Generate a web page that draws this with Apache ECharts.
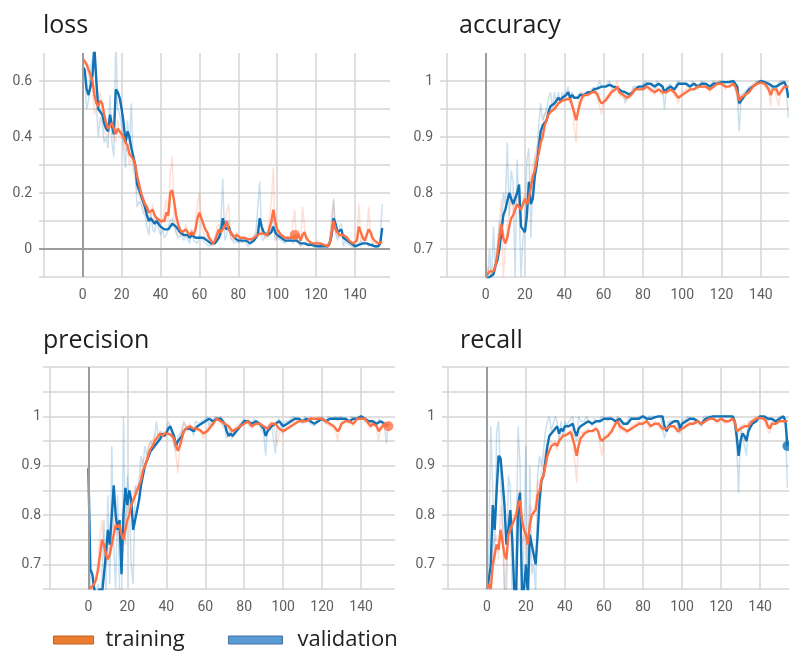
<!DOCTYPE html>
<html><head><meta charset="utf-8">
<script src="https://cdn.jsdelivr.net/npm/echarts@6/dist/echarts.min.js"></script>
<style>html,body{margin:0;padding:0;background:#fff}#c{width:789px;height:652px}</style>
</head><body><div id="c"></div>
<script>
// ---------- DATA (epochs 0..154) ----------
const lossVal = [0.65,0.64,0.57,0.55,0.58,0.62,0.72,0.60,0.50,0.49,
0.48,0.45,0.43,0.42,0.48,0.44,0.41,0.57,0.56,0.54,
0.50,0.45,0.38,0.42,0.40,0.36,0.33,0.30,0.23,0.21,
0.19,0.17,0.15,0.12,0.10,0.11,0.10,0.09,0.10,0.09,
0.08,0.08,0.07,0.065,0.07,0.08,0.09,0.09,0.08,0.07,
0.06,0.055,0.05,0.05,0.05,0.04,0.05,0.045,0.04,0.035,
0.04,0.045,0.04,0.035,0.03,0.025,0.02,0.02,0.02,0.03,
0.04,0.06,0.11,0.08,0.07,0.08,0.06,0.05,0.04,0.035,
0.03,0.035,0.03,0.03,0.03,0.025,0.02,0.025,0.03,0.04,
0.05,0.11,0.08,0.06,0.055,0.05,0.05,0.06,0.08,0.06,
0.05,0.045,0.04,0.035,0.03,0.03,0.03,0.035,0.03,0.025,
0.03,0.025,0.02,0.02,0.02,0.02,0.015,0.015,0.015,0.01,
0.01,0.015,0.01,0.01,0.01,0.01,0.01,0.02,0.05,0.11,
0.09,0.06,0.065,0.07,0.04,0.035,0.03,0.025,0.02,0.015,
0.01,0.01,0.015,0.02,0.02,0.02,0.02,0.015,0.015,0.015,
0.01,0.01,0.01,0.02,0.075];
const lossTrain = [0.68,0.67,0.66,0.64,0.62,0.60,0.55,0.52,0.51,0.53,
0.52,0.48,0.45,0.43,0.44,0.45,0.43,0.41,0.43,0.42,
0.41,0.40,0.38,0.37,0.34,0.33,0.32,0.30,0.26,0.23,
0.20,0.18,0.16,0.15,0.13,0.13,0.14,0.12,0.11,0.11,
0.10,0.10,0.10,0.13,0.12,0.20,0.21,0.17,0.12,0.09,
0.07,0.06,0.06,0.07,0.06,0.05,0.06,0.05,0.07,0.11,
0.13,0.11,0.09,0.07,0.06,0.04,0.03,0.02,0.03,0.05,
0.07,0.06,0.07,0.08,0.10,0.07,0.06,0.05,0.04,0.05,
0.05,0.04,0.04,0.04,0.04,0.035,0.035,0.035,0.04,0.045,
0.05,0.055,0.06,0.055,0.05,0.05,0.05,0.10,0.14,0.10,
0.07,0.06,0.05,0.045,0.04,0.04,0.04,0.04,0.04,0.05,
0.04,0.05,0.03,0.05,0.06,0.04,0.03,0.025,0.02,0.02,
0.02,0.025,0.02,0.02,0.015,0.01,0.01,0.02,0.06,0.10,
0.07,0.06,0.05,0.05,0.05,0.045,0.04,0.03,0.025,0.02,
0.02,0.03,0.08,0.06,0.04,0.03,0.03,0.07,0.06,0.04,
0.03,0.025,0.02,0.02,0.025];
const lossValRaw = [0.66,0.62,0.50,0.53,0.65,0.68,0.78,0.52,0.40,0.47,
0.45,0.38,0.40,0.36,0.55,0.38,0.33,0.75,0.50,0.48,
0.44,0.36,0.29,0.46,0.37,0.52,0.28,0.26,0.15,0.17,
0.16,0.13,0.12,0.08,0.05,0.13,0.07,0.06,0.11,0.07,
0.05,0.07,0.04,0.05,0.08,0.10,0.11,0.08,0.06,0.04,
0.04,0.05,0.03,0.05,0.05,0.02,0.07,0.03,0.03,0.02,
0.05,0.05,0.03,0.02,0.02,0.01,0.01,0.02,0.02,0.05,
0.06,0.09,0.25,0.03,0.05,0.10,0.04,0.03,0.02,0.03,
0.02,0.04,0.02,0.03,0.03,0.01,0.01,0.03,0.04,0.06,
0.06,0.24,0.04,0.03,0.05,0.04,0.05,0.08,0.11,0.03,
0.04,0.04,0.03,0.03,0.02,0.03,0.03,0.04,0.02,0.02,
0.04,0.02,0.01,0.02,0.02,0.02,0.01,0.01,0.02,0.00,
0.01,0.02,0.00,0.01,0.01,0.01,0.01,0.03,0.09,0.18,
0.06,0.03,0.08,0.09,0.01,0.03,0.02,0.02,0.01,0.01,
0.00,0.01,0.02,0.03,0.02,0.02,0.02,0.01,0.01,0.02,
0.01,0.00,0.01,0.04,0.16];
const lossTrainRaw = [0.69,0.66,0.65,0.62,0.60,0.58,0.48,0.50,0.50,0.56,
0.50,0.42,0.41,0.40,0.46,0.47,0.40,0.38,0.46,0.40,
0.40,0.39,0.35,0.36,0.30,0.32,0.31,0.28,0.20,0.19,
0.16,0.15,0.13,0.14,0.10,0.13,0.16,0.09,0.10,0.11,
0.09,0.10,0.10,0.18,0.10,0.27,0.33,0.11,0.06,0.05,
0.05,0.05,0.06,0.09,0.05,0.04,0.07,0.04,0.10,0.16,
0.20,0.08,0.06,0.04,0.05,0.02,0.02,0.01,0.04,0.08,
0.09,0.04,0.08,0.10,0.13,0.16,0.04,0.04,0.03,0.06,
0.05,0.03,0.04,0.04,0.04,0.03,0.03,0.04,0.05,0.05,
0.06,0.06,0.07,0.05,0.04,0.05,0.05,0.17,0.29,0.04,
0.04,0.05,0.04,0.04,0.03,0.04,0.04,0.04,0.04,0.14,
0.02,0.07,0.01,0.15,0.08,0.01,0.02,0.02,0.01,0.02,
0.02,0.03,0.01,0.02,0.01,0.00,0.01,0.03,0.12,0.17,
0.05,0.05,0.04,0.05,0.05,0.04,0.04,0.02,0.02,0.01,
0.02,0.05,0.16,0.03,0.02,0.02,0.03,0.15,0.05,0.02,
0.02,0.02,0.01,0.02,0.03];

const accVal = [0.645,0.648,0.65,0.652,0.655,0.67,0.68,0.70,0.73,0.76,
0.77,0.77,0.80,0.79,0.78,0.78,0.80,0.815,0.74,0.735,
0.73,0.76,0.82,0.78,0.79,0.83,0.85,0.88,0.91,0.92,
0.925,0.93,0.945,0.955,0.955,0.96,0.96,0.97,0.965,0.97,
0.97,0.975,0.98,0.97,0.975,0.97,0.97,0.97,0.975,0.975,
0.975,0.978,0.98,0.98,0.98,0.985,0.985,0.987,0.99,0.99,
0.99,0.99,0.99,0.993,0.995,0.99,0.99,0.988,0.985,0.982,
0.98,0.98,0.98,0.976,0.975,0.98,0.985,0.988,0.99,0.99,
0.99,0.993,0.995,0.995,0.995,0.993,0.99,0.993,0.995,0.993,
0.99,0.98,0.985,0.988,0.99,0.988,0.985,0.99,0.995,0.995,
0.995,0.995,0.995,0.993,0.99,0.993,0.995,0.993,0.99,0.993,
0.995,0.995,0.995,0.993,0.99,0.993,0.995,0.995,0.995,0.997,
0.998,0.998,0.998,0.998,0.998,0.999,1.0,0.998,0.99,0.96,
0.965,0.97,0.975,0.98,0.985,0.988,0.99,0.993,0.995,0.998,
1.0,0.999,0.998,0.997,0.995,0.993,0.99,0.99,0.99,0.992,
0.995,0.997,0.998,0.99,0.97];
const accTrain = [0.65,0.655,0.66,0.658,0.66,0.67,0.69,0.72,0.745,0.72,
0.71,0.72,0.74,0.755,0.76,0.77,0.78,0.78,0.77,0.78,
0.79,0.78,0.79,0.81,0.83,0.84,0.86,0.87,0.89,0.90,
0.92,0.93,0.94,0.945,0.945,0.95,0.955,0.96,0.963,0.965,
0.965,0.967,0.968,0.968,0.965,0.945,0.93,0.945,0.96,0.97,
0.975,0.975,0.975,0.977,0.98,0.98,0.98,0.975,0.965,0.96,
0.96,0.965,0.97,0.975,0.98,0.983,0.985,0.99,0.98,0.978,
0.975,0.972,0.97,0.972,0.975,0.98,0.985,0.985,0.985,0.985,
0.985,0.988,0.99,0.988,0.985,0.983,0.98,0.983,0.985,0.983,
0.98,0.98,0.98,0.983,0.985,0.983,0.98,0.975,0.97,0.972,
0.975,0.978,0.98,0.983,0.985,0.985,0.985,0.988,0.99,0.99,
0.99,0.99,0.99,0.988,0.985,0.988,0.99,0.993,0.995,0.995,
0.995,0.993,0.99,0.99,0.99,0.993,0.995,0.99,0.98,0.965,
0.97,0.972,0.975,0.978,0.98,0.985,0.99,0.993,0.995,0.996,
0.997,0.996,0.995,0.99,0.985,0.975,0.985,0.985,0.985,0.975,
0.98,0.985,0.99,0.99,0.99];
const accValRaw = [0.64,0.65,0.70,0.64,0.74,0.66,0.70,0.75,0.72,0.80,
0.78,0.89,0.76,0.84,0.82,0.65,0.86,0.78,0.65,0.72,
0.74,0.86,0.88,0.72,0.82,0.86,0.87,0.92,0.96,0.93,
0.93,0.95,0.97,0.98,0.95,0.98,0.96,0.98,0.96,0.98,
0.97,0.98,0.99,0.96,0.98,0.97,0.97,0.97,0.98,0.98,
0.97,0.98,0.98,0.98,0.98,0.99,0.98,0.99,1.0,0.99,
0.99,0.99,0.99,1.0,1.0,0.98,0.99,0.985,0.98,0.975,
0.98,0.96,0.98,0.97,0.975,0.99,0.99,0.99,0.99,0.99,
0.99,1.0,1.0,0.995,0.995,0.99,0.985,1.0,1.0,0.99,
0.985,0.95,0.99,0.99,0.995,0.985,0.98,0.995,1.0,0.995,
0.995,0.995,0.995,0.99,0.985,1.0,1.0,0.99,0.985,0.995,
1.0,0.995,0.995,0.99,0.985,0.995,1.0,0.995,0.995,1.0,
1.0,1.0,0.995,1.0,1.0,1.0,1.0,0.995,0.97,0.91,
0.975,0.975,0.98,0.985,0.99,0.99,0.99,0.995,1.0,1.0,
1.0,1.0,0.995,0.995,0.99,0.99,0.985,0.99,0.99,0.995,
1.0,1.0,1.0,0.98,0.935];
const accTrainRaw = [0.65,0.66,0.67,0.65,0.665,0.68,0.71,0.74,0.79,0.65,
0.70,0.74,0.76,0.80,0.76,0.78,0.80,0.78,0.76,0.79,
0.80,0.77,0.80,0.83,0.85,0.85,0.88,0.88,0.91,0.91,
0.94,0.94,0.95,0.95,0.945,0.955,0.96,0.965,0.965,0.97,
0.965,0.97,0.97,0.97,0.96,0.92,0.89,0.96,0.975,0.98,
0.98,0.975,0.975,0.98,0.985,0.98,0.98,0.97,0.955,0.94,
0.96,0.97,0.975,0.98,0.985,0.985,0.99,1.0,0.975,0.975,
0.97,0.97,0.965,0.975,0.98,0.985,0.99,0.985,0.985,0.985,
0.985,0.99,0.995,0.985,0.98,0.98,0.975,0.99,0.99,0.98,
0.975,0.98,0.98,0.99,0.99,0.98,0.975,0.97,0.96,0.975,
0.98,0.98,0.985,0.99,0.99,0.985,0.985,0.99,0.995,0.99,
0.99,0.99,0.99,0.985,0.98,0.99,0.995,0.995,1.0,0.995,
0.995,0.99,0.985,0.99,0.99,1.0,1.0,0.985,0.97,0.955,
0.975,0.975,0.98,0.98,0.985,0.99,0.995,0.995,1.0,1.0,
1.0,0.995,0.995,0.985,0.98,0.955,0.995,0.985,0.985,0.955,
0.985,0.99,0.995,0.99,0.99];

const precVal = [0.895,0.69,0.68,0.65,0.64,0.64,0.65,0.64,0.68,0.72,
0.77,0.74,0.80,0.86,0.80,0.77,0.79,0.68,0.80,0.855,
0.82,0.85,0.83,0.77,0.79,0.81,0.83,0.86,0.88,0.90,
0.91,0.92,0.93,0.935,0.94,0.945,0.95,0.955,0.965,0.96,
0.965,0.975,0.98,0.97,0.96,0.94,0.95,0.955,0.96,0.97,
0.975,0.975,0.975,0.972,0.97,0.975,0.98,0.982,0.985,0.988,
0.99,0.993,0.995,0.993,0.99,0.993,0.995,0.995,0.995,0.99,
0.985,0.97,0.96,0.965,0.96,0.965,0.97,0.975,0.98,0.985,
0.99,0.99,0.99,0.988,0.985,0.988,0.99,0.988,0.985,0.98,
0.975,0.96,0.97,0.975,0.98,0.983,0.985,0.988,0.99,0.985,
0.98,0.983,0.985,0.988,0.99,0.993,0.995,0.995,0.995,0.993,
0.99,0.993,0.995,0.993,0.99,0.988,0.985,0.988,0.99,0.993,
0.995,0.993,0.99,0.993,0.995,0.995,0.995,0.995,0.995,0.995,
0.995,0.995,0.995,0.993,0.99,0.993,0.995,0.995,0.995,0.998,
1.0,0.998,0.995,0.993,0.99,0.99,0.99,0.988,0.985,0.988,
0.99,0.988,0.985,0.98,0.985];
const precTrain = [0.65,0.65,0.655,0.66,0.67,0.69,0.72,0.75,0.74,0.72,
0.71,0.72,0.74,0.76,0.78,0.775,0.78,0.76,0.75,0.77,
0.79,0.80,0.82,0.83,0.84,0.85,0.85,0.87,0.89,0.90,
0.91,0.925,0.935,0.94,0.95,0.955,0.96,0.965,0.96,0.965,
0.965,0.965,0.965,0.96,0.955,0.94,0.93,0.94,0.955,0.97,
0.975,0.978,0.98,0.978,0.975,0.975,0.975,0.972,0.97,0.965,
0.965,0.97,0.975,0.98,0.985,0.99,0.995,0.995,0.99,0.988,
0.985,0.982,0.98,0.975,0.97,0.972,0.975,0.978,0.98,0.983,
0.985,0.988,0.99,0.985,0.98,0.983,0.985,0.985,0.985,0.983,
0.98,0.978,0.975,0.98,0.985,0.985,0.985,0.98,0.975,0.972,
0.97,0.972,0.975,0.978,0.98,0.983,0.985,0.988,0.99,0.99,
0.99,0.99,0.99,0.993,0.995,0.995,0.995,0.995,0.995,0.995,
0.995,0.993,0.99,0.988,0.985,0.983,0.98,0.975,0.97,0.975,
0.985,0.988,0.99,0.99,0.99,0.988,0.985,0.99,0.995,0.995,
0.995,0.995,0.995,0.99,0.985,0.98,0.985,0.985,0.98,0.97,
0.975,0.98,0.985,0.983,0.98];
const precValRaw = [0.90,0.66,0.64,0.62,0.62,0.66,0.62,0.68,0.79,0.64,
0.84,0.66,0.94,0.74,0.65,0.84,0.65,0.60,1.0,0.74,
0.88,0.82,0.70,0.66,0.86,0.84,0.87,0.92,0.90,0.94,
0.92,0.94,0.95,0.93,0.96,0.99,0.95,0.97,0.97,0.96,
0.97,0.99,0.98,0.96,0.94,0.93,0.96,0.96,0.97,0.99,
0.98,0.97,0.97,0.98,0.96,0.99,0.99,0.985,0.99,0.99,
0.995,1.0,0.98,0.99,0.98,1.0,1.0,0.99,1.0,0.98,
0.975,0.955,0.955,0.975,0.955,0.97,0.975,0.98,0.985,0.99,
0.995,0.99,0.99,0.98,0.98,0.995,0.995,0.985,0.98,0.97,
0.965,0.92,0.98,0.98,0.985,0.985,0.925,0.99,0.995,0.975,
0.975,0.99,0.99,0.99,0.995,1.0,1.0,0.995,0.995,0.99,
0.985,1.0,1.0,0.99,0.985,0.985,0.98,0.995,0.995,0.995,
1.0,0.99,0.985,1.0,1.0,0.995,0.995,1.0,0.99,1.0,
1.0,0.995,0.995,0.99,0.985,1.0,1.0,0.995,0.995,1.0,
1.0,1.0,0.99,0.99,0.985,0.99,0.99,0.985,0.98,0.995,
0.995,0.985,0.98,0.945,0.99];
const precTrainRaw = [0.65,0.64,0.66,0.66,0.68,0.71,0.76,0.79,0.72,0.70,
0.70,0.73,0.77,0.78,0.80,0.76,0.79,0.73,0.74,0.80,
0.81,0.81,0.84,0.84,0.85,0.86,0.85,0.89,0.91,0.91,
0.92,0.94,0.945,0.945,0.96,0.96,0.965,0.97,0.955,0.97,
0.965,0.965,0.965,0.955,0.95,0.92,0.885,0.955,0.975,0.985,
0.98,0.98,0.985,0.975,0.97,0.975,0.975,0.97,0.965,0.955,
0.965,0.975,0.98,0.985,0.99,0.995,1.0,0.995,0.985,0.985,
0.98,0.98,0.975,0.97,0.965,0.975,0.98,0.98,0.985,0.985,
0.99,0.99,0.995,0.98,0.975,0.985,0.99,0.985,0.985,0.98,
0.975,0.975,0.97,0.985,0.99,0.985,0.985,0.94,0.97,0.97,
0.965,0.975,0.98,0.98,0.985,0.985,0.99,0.99,0.995,0.99,
0.99,0.99,0.99,0.995,1.0,0.995,0.995,0.995,1.0,0.995,
0.995,0.99,0.985,0.985,0.98,0.98,0.975,0.97,0.95,0.98,
0.99,0.99,0.995,0.99,0.99,0.985,0.98,0.995,1.0,0.995,
0.995,0.995,0.995,0.985,0.98,0.975,0.99,0.985,0.975,0.95,
0.98,0.985,0.99,0.98,0.98];

const recVal = [0.65,0.67,0.70,0.82,0.77,0.85,0.92,0.915,0.87,0.82,
0.74,0.77,0.81,0.75,0.65,0.64,0.82,0.845,0.64,0.65,
0.70,0.64,0.76,0.74,0.72,0.70,0.76,0.83,0.87,0.88,
0.91,0.94,0.96,0.965,0.97,0.97,0.98,0.965,0.975,0.97,
0.98,0.98,0.98,0.983,0.985,0.97,0.96,0.975,0.98,0.983,
0.985,0.988,0.99,0.988,0.985,0.988,0.99,0.99,0.99,0.993,
0.995,0.995,0.995,0.995,0.995,0.993,0.99,0.993,0.995,0.99,
0.985,0.985,0.985,0.99,0.995,0.995,0.995,0.995,0.995,0.998,
1.0,0.998,0.995,0.995,0.995,0.997,0.998,0.999,1.0,1.0,
1.0,0.98,0.97,0.978,0.985,0.988,0.99,0.99,0.99,0.975,
0.985,0.988,0.99,0.993,0.995,0.995,0.995,0.993,0.99,0.988,
0.985,0.99,0.995,0.997,0.998,0.999,1.0,1.0,1.0,1.0,
1.0,1.0,1.0,1.0,1.0,1.0,1.0,0.99,0.96,0.92,
0.95,0.965,0.96,0.95,0.97,0.978,0.985,0.988,0.99,0.995,
1.0,1.0,1.0,0.998,0.995,0.995,0.995,0.993,0.99,0.993,
0.995,0.998,1.0,0.99,0.94];
const recTrain = [0.65,0.66,0.65,0.70,0.72,0.74,0.73,0.77,0.77,0.72,
0.71,0.76,0.77,0.78,0.79,0.80,0.82,0.83,0.79,0.77,
0.76,0.74,0.78,0.80,0.80,0.81,0.84,0.85,0.87,0.88,
0.90,0.92,0.93,0.94,0.94,0.945,0.94,0.95,0.955,0.96,
0.96,0.963,0.965,0.968,0.97,0.94,0.92,0.94,0.955,0.96,
0.965,0.968,0.97,0.97,0.97,0.972,0.975,0.97,0.955,0.95,
0.955,0.958,0.96,0.965,0.97,0.978,0.985,0.99,0.98,0.978,
0.975,0.972,0.97,0.972,0.975,0.978,0.98,0.983,0.985,0.985,
0.985,0.988,0.99,0.985,0.98,0.983,0.985,0.985,0.985,0.98,
0.975,0.975,0.975,0.978,0.98,0.98,0.98,0.975,0.97,0.972,
0.975,0.978,0.98,0.983,0.985,0.985,0.985,0.988,0.99,0.988,
0.985,0.988,0.99,0.993,0.995,0.995,0.995,0.993,0.99,0.993,
0.995,0.993,0.99,0.99,0.99,0.993,0.995,0.99,0.97,0.97,
0.975,0.978,0.98,0.98,0.98,0.985,0.99,0.993,0.995,0.996,
0.997,0.996,0.995,0.99,0.98,0.975,0.985,0.985,0.985,0.988,
0.99,0.99,0.99,0.99,0.99];
const recValRaw = [0.65,0.72,0.98,0.85,0.70,0.97,0.99,0.88,0.80,0.66,
0.62,0.88,0.86,0.62,0.60,0.74,0.98,0.90,0.60,0.75,
0.94,0.60,0.90,0.68,0.70,0.64,0.88,0.92,0.90,0.93,
0.97,0.99,1.0,0.97,0.97,1.0,0.99,0.95,0.99,0.96,
0.99,0.98,0.99,0.99,1.0,0.96,0.95,1.0,0.99,0.99,
0.99,1.0,0.99,0.985,0.98,0.995,0.995,0.99,0.99,1.0,
1.0,0.995,0.99,1.0,1.0,0.99,0.985,1.0,1.0,0.98,
0.98,0.985,0.99,1.0,1.0,0.995,0.995,0.995,1.0,1.0,
1.0,0.995,0.99,1.0,1.0,1.0,1.0,1.0,1.0,1.0,
1.0,0.955,0.97,0.99,0.99,0.99,0.99,0.99,0.99,0.965,
0.995,0.99,0.995,1.0,1.0,0.995,0.99,0.99,0.985,0.985,
0.98,1.0,1.0,1.0,1.0,1.0,1.0,1.0,1.0,1.0,
1.0,1.0,1.0,1.0,1.0,1.0,1.0,0.98,0.94,0.845,
0.98,0.98,0.94,0.92,0.99,0.99,0.99,0.99,0.995,1.0,
1.0,1.0,1.0,0.995,0.99,0.995,0.995,0.99,0.985,0.995,
1.0,1.0,1.0,0.98,0.855];
const recTrainRaw = [0.65,0.67,0.64,0.74,0.74,0.76,0.71,0.82,0.78,0.64,
0.70,0.80,0.78,0.79,0.80,0.81,0.84,0.85,0.74,0.76,
0.75,0.71,0.82,0.82,0.80,0.83,0.87,0.86,0.89,0.89,
0.93,0.94,0.94,0.95,0.94,0.95,0.93,0.96,0.96,0.965,
0.96,0.965,0.97,0.97,0.975,0.91,0.865,0.96,0.97,0.965,
0.97,0.97,0.975,0.97,0.97,0.975,0.98,0.965,0.94,0.92,
0.96,0.96,0.965,0.97,0.975,0.985,0.99,1.0,0.97,0.975,
0.97,0.97,0.965,0.975,0.98,0.98,0.985,0.985,0.99,0.985,
0.985,0.99,0.995,0.975,0.975,0.985,0.99,0.985,0.985,0.975,
0.97,0.975,0.975,0.98,0.985,0.98,0.98,0.97,0.965,0.975,
0.98,0.98,0.985,0.985,0.99,0.985,0.985,0.99,0.995,0.985,
0.98,0.99,0.995,0.995,1.0,0.995,0.995,0.99,0.985,0.995,
1.0,0.99,0.985,0.99,0.99,0.995,1.0,0.985,0.96,0.97,
0.98,0.98,0.985,0.98,0.98,0.99,0.995,0.995,1.0,0.995,
1.0,0.995,0.995,0.985,0.97,0.965,0.995,0.985,0.985,0.99,
0.99,0.99,0.99,0.99,0.99];

const panelTitles = ['loss', 'accuracy', 'precision', 'recall'];
const xTickLabels = [0, 20, 40, 60, 80, 100, 120, 140];
const lossYLabels = [0, 0.2, 0.4, 0.6];
const metricYLabels = [0.7, 0.8, 0.9, 1];
const seriesNames = ['training', 'validation'];
// epoch of the highlighted (hover) point per panel and which run: [epoch, run]
const hoverPoints = [[109, 0], null, [154, 0], [154, 1]];

// ---------- LAYOUT / STYLE ----------
const ORANGE = '#ff7043', BLUE = '#1172b6';
const panels = [
  {title: panelTitles[0], train: lossTrain, val: lossVal, trainRaw: lossTrainRaw, valRaw: lossValRaw,
   grid: {left: 39, top: 53, width: 351, height: 224}, xMin: -22.5, xMax: 158,
   yMin: -0.1, yMax: 0.7, yInt: 0.1, yLabels: lossYLabels, zeroY: true, maxLine: false, labMargin: 7,
   titlePos: {left: 43, top: 13}},
  {title: panelTitles[1], train: accTrain, val: accVal, trainRaw: accTrainRaw, valRaw: accValRaw,
   grid: {left: 440, top: 53, width: 349, height: 224}, xMin: -23.2, xMax: 154.3,
   yMin: 0.65, yMax: 1.05, yInt: 0.05, yLabels: metricYLabels, zeroY: false, maxLine: false, labMargin: 7,
   titlePos: {left: 459, top: 13}},
  {title: panelTitles[2], train: precTrain, val: precVal, trainRaw: precTrainRaw, valRaw: precValRaw,
   grid: {left: 43, top: 367, width: 352, height: 222}, xMin: -23.3, xMax: 157.4,
   yMin: 0.65, yMax: 1.1, yInt: 0.05, yLabels: metricYLabels, zeroY: false, maxLine: true, labMargin: 2,
   titlePos: {left: 43, top: 328}},
  {title: panelTitles[3], train: recTrain, val: recVal, trainRaw: recTrainRaw, valRaw: recValRaw,
   grid: {left: 442, top: 367, width: 347, height: 222}, xMin: -23, xMax: 154.8,
   yMin: 0.65, yMax: 1.1, yInt: 0.05, yLabels: metricYLabels, zeroY: false, maxLine: true, labMargin: 7,
   titlePos: {left: 460, top: 328}}
];

const toPairs = arr => arr.map((v, i) => [i, v]);
const labelStyle = {color: '#5f5f5f', fontSize: 14, fontFamily: 'Roboto'};
const gridLine = {lineStyle: {color: '#d4d4d4', width: 1.5}};

const option = {
  animation: false,
  backgroundColor: '#fff',
  title: [], grid: [], xAxis: [], yAxis: [], series: [],
  legend: [
    {data: [{name: seriesNames[0], icon: 'rect', itemStyle: {color: '#ed7d31', borderColor: '#c2611f', borderWidth: 1}}],
     left: 53, top: 629, padding: 0, itemWidth: 40, itemHeight: 8, selectedMode: false,
     textStyle: {fontSize: 22, fontFamily: 'Open Sans', color: '#222', padding: [0, 0, 0, 7]}},
    {data: [{name: seriesNames[1], icon: 'rect', itemStyle: {color: '#5b9bd5', borderColor: '#41719c', borderWidth: 1}}],
     left: 228, top: 629, padding: 0, itemWidth: 54, itemHeight: 8, selectedMode: false,
     textStyle: {fontSize: 22, fontFamily: 'Open Sans', color: '#222', padding: [0, 0, 0, 10]}}
  ]
};

panels.forEach((p, k) => {
  option.title.push({text: p.title, left: p.titlePos.left, top: p.titlePos.top, padding: 0,
    textStyle: {fontFamily: 'Open Sans', fontSize: 25, fontWeight: 'normal', color: '#1e1e1e'}});
  option.grid.push(Object.assign({containLabel: false}, p.grid));
  option.xAxis.push({type: 'value', gridIndex: k, min: p.xMin, max: p.xMax,
    minInterval: 20, maxInterval: 20, splitNumber: 9,
    axisLine: {show: false}, axisTick: {show: false},
    axisLabel: Object.assign({margin: 11, showMinLabel: false, showMaxLabel: false,
      formatter: v => xTickLabels.includes(Math.round(v)) && Math.abs(v - Math.round(v)) < 1e-6 ? String(Math.round(v)) : ''}, labelStyle),
    splitLine: Object.assign({show: true, showMinLine: false, showMaxLine: false}, gridLine)});
  option.yAxis.push({type: 'value', gridIndex: k, min: p.yMin, max: p.yMax, interval: p.yInt,
    axisLine: {show: false}, axisTick: {show: false},
    axisLabel: Object.assign({margin: p.labMargin,
      formatter: v => { const m = p.yLabels.find(t => Math.abs(t - v) < 1e-6); return m === undefined ? '' : String(m); }}, labelStyle),
    splitLine: Object.assign({show: true, showMinLine: true, showMaxLine: p.maxLine}, gridLine)});

  const zeroData = [{xAxis: 0}];
  if (p.zeroY) zeroData.push({yAxis: 0});
  const base = {type: 'line', xAxisIndex: k, yAxisIndex: k, symbol: 'none', showSymbol: false, silent: true, clip: true};
  option.series.push(Object.assign({}, base, {name: 'validation raw', data: toPairs(p.valRaw), z: 2,
    lineStyle: {color: BLUE, width: 1.5, opacity: 0.22},
    markLine: {silent: true, symbol: 'none', label: {show: false}, animation: false,
      lineStyle: {color: '#9c9c9c', width: 2, type: 'solid'}, data: zeroData}}));
  option.series.push(Object.assign({}, base, {name: 'training raw', data: toPairs(p.trainRaw), z: 2,
    lineStyle: {color: ORANGE, width: 1.5, opacity: 0.22}}));
  option.series.push(Object.assign({}, base, {name: seriesNames[1], data: toPairs(p.val), z: 3,
    itemStyle: {color: BLUE}, lineStyle: {color: BLUE, width: 2.4}}));
  option.series.push(Object.assign({}, base, {name: seriesNames[0], data: toPairs(p.train), z: 4,
    itemStyle: {color: ORANGE}, lineStyle: {color: ORANGE, width: 2.4}}));
  const hp = hoverPoints[k];
  if (hp) {
    const arr = hp[1] === 0 ? p.train : p.val;
    option.series.push({type: 'scatter', name: 'hover', xAxisIndex: k, yAxisIndex: k, silent: true, z: 5,
      symbolSize: 10, itemStyle: {color: hp[1] === 0 ? ORANGE : BLUE}, data: [[hp[0], arr[hp[0]]]]});
  }
});

const chart = echarts.init(document.getElementById('c'), null, {renderer: 'canvas'});
chart.setOption(option);
</script>
</body></html>
